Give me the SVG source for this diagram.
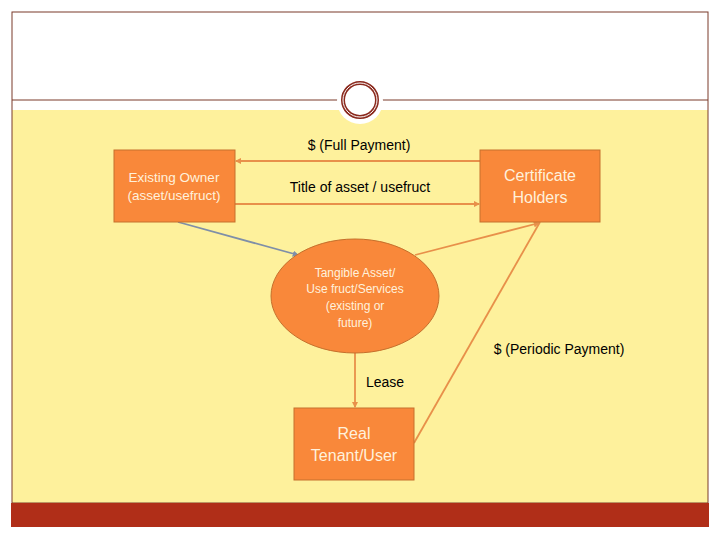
<svg xmlns="http://www.w3.org/2000/svg" width="720" height="540" viewBox="0 0 720 540">
<defs>
<style>
.node{fill:#F9883A;stroke:#C5702C;stroke-width:1}
.ntext{font-family:"Liberation Sans",Arial,sans-serif;fill:#FFF1DC;text-anchor:middle}
.lbl{font-family:"Liberation Sans",Arial,sans-serif;font-size:14px;fill:#000;text-anchor:middle}
.conn{stroke:#E8904A;stroke-width:1.8;fill:none}
</style>
<marker id="ah" viewBox="0 0 6 6" refX="5" refY="3" markerWidth="3.5" markerHeight="3.5" orient="auto"><path d="M0,0L6,3L0,6z" fill="#E8904A"/></marker>
<marker id="ahg" viewBox="0 0 6 6" refX="5" refY="3" markerWidth="3.5" markerHeight="3.5" orient="auto"><path d="M0,0L6,3L0,6z" fill="#7F8FA8"/></marker>
</defs>
<rect width="720" height="540" fill="#fff"/>
<rect x="12" y="110" width="696" height="393" fill="#FEF19C"/>
<rect x="12" y="12" width="696" height="491" fill="none" stroke="#7B3A2B" stroke-width="1"/>
<rect x="11" y="503" width="698" height="24" fill="#B02E18"/>
<line x1="12" y1="100" x2="340" y2="100" stroke="#7B3A2B" stroke-width="1"/>
<line x1="380" y1="100" x2="708" y2="100" stroke="#7B3A2B" stroke-width="1"/>
<circle cx="360" cy="101" r="23" fill="#fff"/>
<circle cx="360" cy="100" r="17" fill="#fff" stroke="#8B2A1E" stroke-width="4"/>
<circle cx="360" cy="100" r="17" fill="none" stroke="#fff" stroke-width="1"/>
<g id="connectors">
<line class="conn" x1="480" y1="161" x2="236" y2="161" marker-end="url(#ah)"/>
<line class="conn" x1="234" y1="204" x2="479" y2="204" marker-end="url(#ah)"/>
<line x1="178" y1="222" x2="298" y2="255" stroke="#7F8FA8" stroke-width="1.8" marker-end="url(#ahg)"/>
<line class="conn" x1="415" y1="255" x2="539" y2="223" marker-end="url(#ah)"/>
<line class="conn" x1="355" y1="353" x2="355" y2="407" marker-end="url(#ah)"/>
<line class="conn" x1="414" y1="443" x2="540" y2="222"/>
</g>
<text class="lbl" x="359" y="150">$ (Full Payment)</text>
<text class="lbl" x="360" y="192">Title of asset / usefruct</text>
<text class="lbl" x="559" y="354">$ (Periodic Payment)</text>
<text class="lbl" x="385" y="387" font-size="11">Lease</text>
<g id="owner">
<rect class="node" x="114" y="150" width="121" height="72"/>
<text class="ntext" font-size="13.5" x="174" y="182">Existing Owner</text>
<text class="ntext" font-size="13.5" x="174" y="200">(asset/usefruct)</text>
</g>
<g id="holders">
<rect class="node" x="480" y="150" width="120" height="72"/>
<text class="ntext" font-size="16" x="540" y="181">Certificate</text>
<text class="ntext" font-size="16" x="540" y="203">Holders</text>
</g>
<g id="asset">
<ellipse class="node" cx="355" cy="296" rx="84" ry="57"/>
<text class="ntext" font-size="12" x="355" y="277">Tangible Asset/</text>
<text class="ntext" font-size="12" x="355" y="293">Use fruct/Services</text>
<text class="ntext" font-size="12" x="355" y="310">(existing or</text>
<text class="ntext" font-size="12" x="355" y="327">future)</text>
</g>
<g id="tenant">
<rect class="node" x="294" y="408" width="120" height="72"/>
<text class="ntext" font-size="16" x="354" y="439">Real</text>
<text class="ntext" font-size="16" x="354" y="461">Tenant/User</text>
</g>
</svg>
